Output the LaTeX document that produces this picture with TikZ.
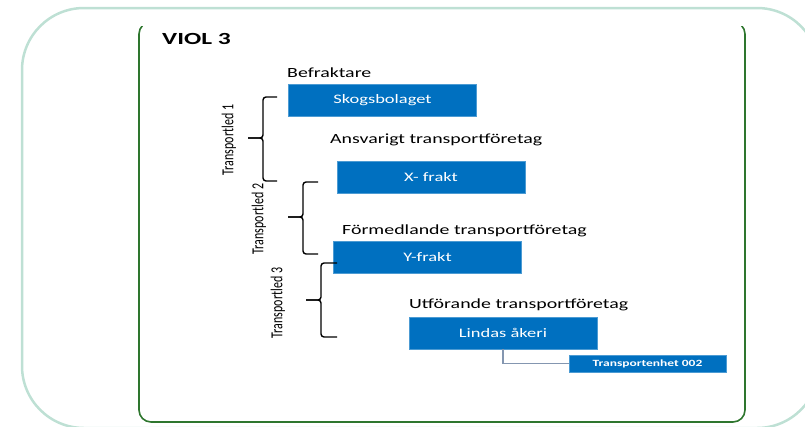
\documentclass[tikz,border=0pt]{standalone}
\usepackage{fontspec}
\setmainfont{Carlito}
\definecolor{outerframe}{RGB}{190,224,212}
\definecolor{innerframe}{RGB}{46,118,46}
\definecolor{boxblue}{RGB}{0,112,192}
\definecolor{linkgray}{RGB}{132,150,176}
\newcommand{\hs}[1]{\scalebox{1.42}[1]{#1}}
\newcommand{\vs}[1]{\scalebox{1}[1.4]{#1}}
\tikzset{
  bluebox/.style={fill=boxblue, draw=boxblue!70!white, line width=0.6pt, text=white, inner sep=0pt,
    minimum width=188pt, minimum height=32pt, font=\fontsize{13}{15}\selectfont},
  lbl/.style={anchor=base west, inner sep=0pt, font=\fontsize{14}{16}\selectfont},
  legtxt/.style={rotate=90, inner sep=0pt, font=\fontsize{12}{14}\selectfont},
  bracket/.style={draw=black, line width=1.4pt, rounded corners=3pt},
}
\begin{document}
\begin{tikzpicture}[x=1pt,y=-1pt]
\useasboundingbox (0,0) rectangle (805,426);
\clip (0,0) rectangle (805,426);
% outer frame
\draw[outerframe, line width=2.5pt, rounded corners=62pt] (22,8) rectangle (819,428);
% inner frame (top edge hidden)
\begin{scope}
\clip (0,26) rectangle (805,430);
\draw[innerframe, line width=1.6pt, rounded corners=12pt] (139,22) rectangle (745,422);
\end{scope}
% title
\node[anchor=base west, inner sep=0pt, font=\bfseries\fontsize{17}{19}\selectfont] (title) at (162,44) {\scalebox{1.5}[1]{VIOL 3}};
% labels
\node[lbl] (l1) at (287,77) {\hs{Befraktare}};
\node[lbl] (l2) at (330,143) {\hs{Ansvarigt transportföretag}};
\node[lbl] (l3) at (342,234) {\hs{Förmedlande transportföretag}};
\node[lbl] (l4) at (409,308) {\hs{Utförande transportföretag}};
% boxes
\node[bluebox] (skog) at (382.5,100.5) {\hs{Skogsbolaget}};
\node[bluebox] (xf) at (431,177) {\hs{X- frakt}};
\node[bluebox] (yf) at (427.5,257) {\hs{Y-frakt}};
\node[bluebox] (lind) at (503,333) {\hs{Lindas åkeri}};
\node[bluebox, minimum width=157pt, minimum height=17pt, font=\bfseries\fontsize{9.5}{11}\selectfont] (te) at (647.5,363.5) {\hs{Transportenhet 002}};
% connector
\draw[linkgray, line width=1.3pt] (lind.south) |- (te.west);
% brackets
\coordinate (b1t) at (277,97); \coordinate (b1m) at (248,138); \coordinate (b1b) at (277,181);
\draw[bracket] (b1t) -- (263,97) -- (263,138) -- (b1m);
\draw[bracket] (b1b) -- (263,181) -- (263,138) -- (b1m);
\coordinate (b2t) at (318,182); \coordinate (b2m) at (288,217); \coordinate (b2b) at (318,254);
\draw[bracket] (b2t) -- (303,182) -- (303,217) -- (b2m);
\draw[bracket] (b2b) -- (303,254) -- (303,217) -- (b2m);
\coordinate (b3t) at (337,263); \coordinate (b3m) at (306,300); \coordinate (b3b) at (337,337);
\draw[bracket] (b3t) -- (321,263) -- (321,300) -- (b3m);
\draw[bracket] (b3b) -- (321,337) -- (321,300) -- (b3m);
% leg labels
\node[legtxt] (t1) at (229,140) {\vs{Transportled 1}};
\node[legtxt] (t2) at (259,219) {\vs{Transportled 2}};
\node[legtxt] (t3) at (278,303) {\vs{Transportled 3}};
\end{tikzpicture}
\end{document}
